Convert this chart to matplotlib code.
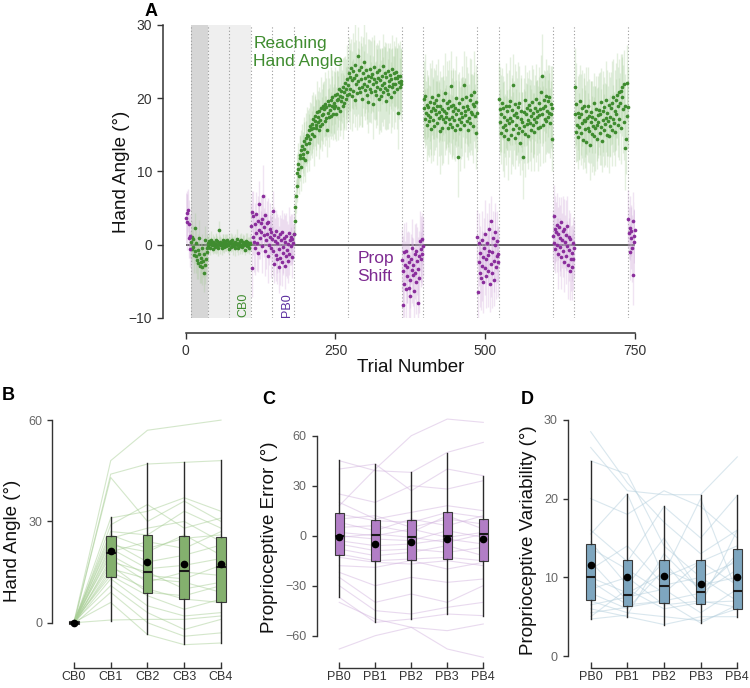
import numpy as np
import matplotlib
matplotlib.use('Agg')
import matplotlib.pyplot as plt

plt.rcParams['font.family'] = ['Liberation Sans', 'DejaVu Sans']

# ---------------- Panel A: per-trial group mean and SEM, block by block ----------------
# prop block 0 (trials 1-8)
P0_START = 1
P0 = [3.6, 4.3, 3.1, 4.7, 0.9, 2.8, -0.6, 1.2]
P0_SEM = [3.4, 3.1, 3.8, 2.9, 2.7, 3.3, 2.5, 3.0]

# reach, no feedback (trials 9-36)
G0_START = 9
G0 = [0.4, -0.6, 1.1, -0.3, 0.8, -1.4, 2.3, -0.9, -1.6, 0.2, -2.1, -0.7, -2.5, -1.2,
      0.9, -2.9, -1.8, -2.4, -0.5, -3.1, -2.2, -3.8, -1.3, -2.7, 0.6, -1.9, -0.4, -1.0]
G0_SEM = [1.6, 1.8, 2.2, 1.5, 1.9, 2.4, 2.0, 1.7, 2.3, 1.8, 2.6, 2.1, 2.2, 1.9,
          2.5, 2.3, 2.0, 2.8, 1.9, 2.4, 2.2, 2.6, 2.1, 2.7, 2.0, 2.3, 1.8, 2.0]

# reach, veridical feedback (trials 37-108)
G1_START = 37
G1 = [0.3, -0.2, 0.5, 0.1, -0.4, 0.7, 0.2, -0.1, 0.4, -0.6, 0.0, 0.3, -0.3, 0.6, 0.1,
      -0.2, 0.5, -0.5, 0.2, 2.0, 0.4, -0.1, 0.3, 0.0, -0.4, 0.6, 0.2, -0.3, 0.1, 0.5,
      -0.2, 0.3, 0.7, -0.1, 0.0, 0.4, -0.6, 0.2, 0.5, -0.3, 0.1, 0.6, -0.2, 0.3, 0.0,
      -0.5, 0.4, 0.2, -0.1, 0.8, 0.1, -0.4, 0.3, 0.5, -0.2, 0.0, 0.6, -0.3, 0.2, 0.4,
      -0.1, 0.3, -0.7, 0.5, 0.1, -0.2, 0.4, 0.0, 0.2, -0.4, 0.3, 0.1]
G1_SEM = [0.9, 0.8, 1.1, 0.7, 1.0, 1.2, 0.8, 0.9, 1.0, 0.7, 1.1, 0.9, 0.8, 1.0, 1.3,
          0.9, 0.7, 1.0, 0.8, 1.2, 0.9, 1.1, 0.8, 0.7, 1.0, 0.9, 1.2, 0.8, 1.0, 0.9,
          0.7, 1.1, 0.8, 1.0, 0.9, 1.2, 0.8, 0.9, 1.1, 0.7, 1.0, 0.8, 1.2, 0.9, 0.7,
          1.0, 1.1, 0.8, 0.9, 1.3, 0.8, 1.0, 0.7, 0.9, 1.1, 0.8, 1.0, 0.9, 1.2, 0.8,
          0.9, 1.0, 0.7, 1.1, 0.8, 0.9, 1.2, 1.0, 0.8, 0.9, 1.1, 0.9]

# prop baseline (trials 109-180)
P1_START = 109
P1 = [2.5, 4.5, -3.2, 1.1, 3.9, 0.4, 2.8, -0.5, 4.2, 1.6, 0.2, 3.3, -1.1, 2.0, 5.6,
      0.9, 3.0, 1.8, -0.2, 3.5, 6.6, 2.4, 1.3, -0.8, 4.0, 0.6, 2.9, 1.5, -1.6, 3.1,
      0.0, 2.2, 1.0, -0.4, 1.7, 0.8,
      4.6, -0.9, 1.3, -2.6, 0.5, -1.4, 1.9, -2.0, 0.2, 1.0, -3.1, -0.6, 1.4, -1.8, 0.7,
      -2.4, 1.8, -0.3, -1.1, 0.9, -2.9, 0.4, -1.5, 1.2, -0.7, 0.1, -2.2, 1.6, -1.2, 0.6,
      -0.2, 1.1, -1.7, 0.8, 0.3, 1.4]
P1_SEM = [3.2, 2.8, 3.9, 2.5, 3.4, 4.1, 2.9, 3.6, 3.0, 2.7, 3.8, 3.3, 2.6, 4.0, 3.1,
          2.9, 3.5, 2.8, 3.7, 3.2, 4.3, 2.6, 3.0, 3.4, 2.9, 3.9, 3.1, 2.7, 3.6, 3.3,
          2.8, 3.5, 3.0, 4.2, 2.9, 3.2, 2.7, 3.4, 3.8, 2.6, 3.1, 3.6, 2.9, 3.3, 4.0,
          2.8, 3.5, 3.1, 2.6, 3.7, 3.0, 3.3, 2.9, 3.8, 2.7, 3.4, 3.1, 3.6, 2.8, 3.2,
          3.9, 2.7, 3.0, 3.5, 2.9, 3.3, 2.6, 3.1, 2.8, 3.4, 2.5, 3.0]

# clamp, learning (trials 181-270)
G2_START = 181
G2 = [1.5, 3.3, 5.2, 6.7, 8.0, 9.8, 10.3, 11.0, 9.4, 11.8,
      12.3, 10.6, 12.9, 13.5, 11.9, 12.4, 14.2, 13.1, 11.5, 14.6,
      13.8, 15.0, 12.7, 14.9, 15.6, 13.9, 16.2, 14.4, 15.8, 16.5,
      15.1, 17.2, 16.0, 14.8, 16.9, 17.6, 15.9, 16.4, 18.1, 16.8,
      17.4, 15.7, 18.3, 17.0, 16.2, 18.6, 17.7, 16.5, 19.0, 17.9,
      18.5, 16.9, 19.2, 17.3, 18.8, 15.6, 19.6, 18.0, 17.4, 19.1,
      18.4, 19.8, 17.6, 18.9, 20.1, 17.9, 19.4, 18.6, 20.4, 19.0,
      17.8, 19.7, 20.6, 18.7, 19.9, 21.2, 18.3, 20.3, 19.6, 21.0,
      20.2, 18.9, 21.5, 19.4, 20.8, 22.1, 19.9, 21.3, 20.5, 22.6]
G2_SEM = [1.2, 1.6, 2.0, 2.3, 2.1, 2.6, 2.4, 2.9, 2.5, 3.1,
          2.7, 3.3, 2.8, 3.0, 3.5, 2.6, 3.2, 3.7, 2.9, 3.4,
          3.1, 3.8, 2.8, 3.5, 3.0, 3.9, 3.3, 2.9, 3.6, 4.0,
          3.2, 3.7, 2.9, 4.1, 3.4, 3.0, 3.8, 3.5, 4.2, 3.1,
          3.6, 4.0, 3.3, 3.9, 2.9, 4.3, 3.5, 3.7, 3.2, 4.1,
          3.8, 3.4, 4.4, 3.0, 3.9, 3.6, 4.2, 3.3, 4.0, 3.7,
          3.5, 4.5, 3.2, 4.1, 3.8, 3.6, 4.3, 3.4, 3.9, 4.6,
          3.7, 4.0, 3.3, 4.4, 3.8, 4.2, 3.5, 4.7, 3.9, 4.1,
          3.6, 4.5, 4.0, 3.8, 4.8, 3.7, 4.3, 4.1, 3.9, 4.6]

# clamp, asymptote (trials 271-360)
G3_START = 271
G3 = [21.8, 23.4, 20.6, 22.9, 21.2, 24.1, 20.3, 22.5, 23.7, 21.0,
      22.8, 19.8, 24.6, 21.9, 23.2, 20.7, 25.7, 22.3, 21.4, 23.9,
      20.9, 22.6, 24.3, 21.6, 19.9, 23.5, 22.0, 24.9, 21.1, 22.7,
      23.8, 20.4, 21.7, 23.1, 19.5, 22.4, 24.0, 21.3, 22.9, 20.8,
      23.3, 21.9, 19.2, 22.6, 24.2, 21.0, 22.2, 20.5, 23.6, 21.5,
      22.8, 19.9, 23.9, 21.2, 22.5, 20.3, 23.0, 21.8, 24.4, 20.9,
      22.1, 23.5, 21.4, 19.6, 22.9, 21.1, 23.7, 20.6, 22.4, 21.7,
      23.2, 20.1, 22.6, 21.5, 24.0, 22.0, 20.8, 23.4, 21.9, 22.8,
      23.6, 21.3, 22.7, 18.0, 23.1, 22.2, 21.6, 23.0, 22.4, 21.9]
G3_SEM = [4.2, 5.0, 3.8, 4.6, 5.4, 4.0, 4.8, 3.9, 5.2, 4.4,
          4.9, 3.7, 5.6, 4.3, 4.7, 5.1, 4.0, 4.5, 5.3, 3.9,
          4.6, 5.0, 4.2, 5.5, 3.8, 4.8, 4.4, 5.2, 4.1, 4.7,
          5.3, 3.9, 4.5, 5.0, 4.3, 5.7, 4.0, 4.6, 4.9, 4.2,
          5.1, 3.8, 4.7, 5.4, 4.4, 4.0, 5.0, 4.6, 3.9, 5.2,
          4.5, 4.8, 4.1, 5.5, 4.3, 4.9, 3.8, 5.1, 4.4, 4.7,
          5.0, 4.2, 5.6, 4.0, 4.6, 5.3, 3.9, 4.8, 4.5, 5.1,
          4.3, 4.9, 4.1, 5.4, 4.6, 3.8, 5.0, 4.4, 5.2, 4.0,
          4.7, 5.5, 4.2, 4.9, 4.5, 5.1, 3.9, 4.8, 4.3, 5.0]

# prop block 1 (trials 361-396)
P2_START = 361
P2 = [-2.1, -8.2, -3.6, -1.0, -5.4, -2.8, -6.1, -0.9, -4.3, -3.1,
      -1.6, -5.9, -2.4, -4.8, -7.0, -1.9, -3.5, -0.4, -4.1, -2.7,
      -6.3, -1.2, -3.9, -5.1, -0.8, -2.2, -8.0, -3.3, -1.5, -4.6,
      0.5, -2.0, -0.6, 0.8, -1.3, -0.2]
P2_SEM = [4.2, 3.6, 4.8, 3.9, 4.4, 3.3, 4.6, 4.0, 3.7, 4.9, 3.5, 4.3, 4.1, 3.8, 4.7,
          3.4, 4.5, 3.9, 4.2, 3.6, 4.8, 4.0, 3.5, 4.4, 3.7, 4.6, 3.9, 4.3, 3.4, 4.7,
          4.1, 3.8, 4.5, 3.6, 4.2, 4.0]

# clamp block 2 (trials 397-486)
G4_START = 397
G4 = [18.6, 19.9, 17.2, 20.3, 18.0, 16.4, 19.1, 17.7, 18.8, 16.9,
      19.5, 17.4, 18.2, 15.8, 20.1, 18.7, 17.0, 19.3, 16.2, 18.4,
      17.8, 19.7, 16.6, 18.9, 20.4, 17.3, 18.1, 15.5, 19.0, 17.6,
      18.5, 16.0, 19.8, 17.1, 18.3, 20.7, 16.8, 18.0, 17.5, 19.4,
      15.9, 18.6, 17.2, 19.6, 16.5, 18.9, 21.7, 17.4, 16.1, 18.2,
      19.1, 17.0, 15.6, 18.7, 17.9, 20.0, 16.3, 12.0, 18.4, 17.1,
      19.3, 15.8, 18.0, 16.7, 19.9, 17.5, 18.8, 16.4, 21.8, 17.7,
      18.3, 20.2, 16.9, 19.0, 15.7, 18.5, 17.3, 19.7, 16.6, 18.1,
      20.5, 17.8, 19.2, 16.2, 18.9, 20.9, 17.6, 19.5, 15.2, 18.0]
G4_SEM = [4.6, 5.2, 4.0, 5.8, 4.4, 5.0, 4.7, 5.5, 4.1, 4.9,
          5.3, 4.3, 5.9, 4.6, 5.1, 4.2, 5.6, 4.8, 4.0, 5.4,
          4.5, 5.0, 5.7, 4.3, 4.9, 5.2, 4.1, 5.8, 4.7, 5.3,
          4.4, 5.1, 4.8, 6.0, 4.2, 5.5, 4.6, 5.0, 4.3, 5.7,
          4.9, 5.2, 4.5, 5.6, 4.1, 5.0, 4.8, 5.4, 4.4, 5.9,
          4.7, 5.3, 4.2, 5.1, 4.6, 5.8, 4.0, 5.5, 4.9, 5.2,
          4.3, 5.7, 4.8, 5.0, 4.5, 5.4, 4.1, 5.9, 4.7, 5.1,
          4.4, 5.6, 4.9, 5.3, 4.2, 5.0, 4.6, 5.8, 4.3, 5.2,
          4.8, 5.5, 4.0, 5.1, 4.7, 5.6, 4.4, 5.0, 4.9, 5.3]

# prop block 2 (trials 487-522)
P3_START = 487
P3 = [1.0, -6.5, -2.3, 0.2, -3.8, -1.1, -4.6, 0.7, -2.9, -1.7,
      -5.1, -0.4, -3.2, 1.5, -2.0, -4.2, 0.3, -1.4, -3.6, 2.1,
      -0.8, -5.3, -2.6, 3.3, -1.0, -3.9, 0.9, -2.2, -4.8, -0.1,
      1.8, -3.0, -1.6, 0.5, -2.4, -1.2]
P3_SEM = [3.8, 4.5, 3.4, 4.1, 4.7, 3.6, 4.3, 3.9, 4.8, 3.5, 4.2, 4.0, 3.7, 4.6, 3.3,
          4.4, 4.1, 3.8, 4.9, 3.6, 4.3, 3.9, 4.5, 3.4, 4.0, 4.7, 3.7, 4.2, 3.5, 4.6,
          3.9, 4.4, 3.6, 4.1, 4.8, 3.8]

# clamp block 3 (trials 523-612)
G5_START = 523
G5 = [19.9, 16.8, 18.5, 15.2, 17.9, 19.3, 16.1, 18.7, 14.8, 17.4,
      16.3, 19.0, 15.6, 18.2, 17.0, 14.4, 18.9, 16.6, 19.6, 17.3,
      15.0, 18.4, 16.9, 21.8, 15.8, 17.7, 19.2, 14.6, 18.0, 16.4,
      17.5, 15.3, 18.8, 16.0, 19.4, 13.9, 17.2, 18.3, 15.5, 16.7,
      12.0, 18.1, 16.2, 19.8, 15.1, 17.8, 16.5, 18.6, 14.9, 17.0,
      19.1, 16.6, 18.4, 15.7, 17.6, 19.5, 16.3, 18.0, 17.1, 15.4,
      18.7, 16.8, 19.9, 17.4, 18.2, 15.9, 19.3, 17.7, 18.5, 16.1,
      20.9, 17.9, 23.1, 18.6, 16.4, 19.7, 17.2, 18.9, 20.3, 16.9,
      18.3, 19.6, 17.5, 20.2, 18.0, 16.6, 19.2, 17.8, 18.6, 14.5]
G5_SEM = [5.0, 4.5, 5.7, 4.2, 5.3, 4.8, 6.1, 4.4, 5.5, 4.9,
          4.3, 5.8, 4.7, 5.2, 4.1, 5.6, 5.0, 4.6, 6.0, 4.4,
          5.3, 4.8, 5.9, 4.2, 5.1, 4.7, 5.5, 4.3, 5.7, 4.9,
          5.2, 4.5, 6.2, 4.8, 5.0, 4.4, 5.6, 4.9, 5.3, 4.1,
          5.8, 4.6, 5.1, 4.7, 5.9, 4.3, 5.4, 5.0, 4.5, 5.7,
          4.8, 5.2, 4.2, 5.6, 4.9, 5.0, 4.4, 6.0, 4.7, 5.3,
          4.5, 5.5, 4.8, 5.1, 4.3, 5.8, 4.9, 5.2, 4.6, 5.4,
          5.0, 4.4, 5.7, 4.7, 5.3, 4.2, 5.9, 4.8, 5.1, 4.5,
          5.6, 4.9, 5.0, 4.3, 5.5, 4.8, 5.2, 4.6, 5.8, 4.4]

# prop block 3 (trials 613-648)
P4_START = 613
P4 = [1.2, 3.9, 0.3, 2.1, -0.6, 1.8, 2.7, 0.0, -1.2, 1.5,
      2.4, -0.3, 0.9, 3.1, -1.7, 0.6, 1.9, -0.9, 2.2, -2.3,
      0.4, 1.3, -1.5, 2.6, -0.2, -2.8, 1.0, -0.7, -3.6, 0.8,
      -1.9, -1.1, -3.0, 0.2, -2.0, -0.5]
P4_SEM = [3.5, 4.2, 3.8, 4.6, 3.3, 4.0, 4.4, 3.7, 4.9, 3.6, 4.1, 3.9, 4.5, 3.4, 4.3,
          3.8, 4.7, 3.5, 4.0, 4.2, 3.6, 4.8, 3.9, 4.1, 3.4, 4.6, 3.7, 4.3, 4.0, 3.5,
          4.4, 3.8, 4.5, 3.6, 4.2, 3.9]

# clamp block 4 (trials 649-738)
G6_START = 649
G6 = [17.9, 21.6, 15.4, 19.2, 16.3, 18.0, 14.7, 17.5, 16.1, 19.6,
      15.2, 17.8, 16.6, 18.7, 14.3, 17.0, 19.0, 15.8, 16.9, 18.3,
      14.0, 17.3, 16.0, 18.9, 15.5, 17.6, 13.6, 16.8, 18.1, 15.1,
      17.4, 16.2, 19.3, 14.8, 17.1, 15.9, 18.5, 16.4, 14.5, 17.7,
      16.7, 18.4, 15.3, 17.9, 19.5, 16.1, 14.2, 18.2, 17.0, 15.6,
      18.8, 16.5, 17.3, 19.8, 15.0, 18.0, 16.9, 14.9, 19.1, 17.5,
      16.2, 18.6, 15.7, 19.4, 17.2, 20.1, 16.6, 18.3, 15.4, 19.7,
      17.8, 20.4, 16.4, 18.9, 20.8, 17.1, 19.3, 21.0, 15.9, 20.2,
      21.5, 18.5, 21.9, 16.8, 19.0, 13.2, 14.4, 22.1, 17.6, 18.8]
G6_SEM = [4.7, 5.3, 4.1, 5.6, 4.9, 5.1, 4.4, 5.8, 4.6, 5.0,
          4.3, 5.5, 4.8, 5.2, 4.0, 5.7, 4.5, 5.3, 4.9, 5.9,
          4.2, 5.1, 4.7, 5.4, 4.4, 5.0, 4.8, 5.6, 4.3, 5.2,
          4.9, 5.5, 4.1, 5.3, 4.6, 5.8, 4.5, 5.0, 4.2, 5.4,
          4.8, 5.1, 4.4, 5.7, 4.6, 5.2, 4.3, 5.5, 4.9, 5.0,
          4.1, 5.6, 4.7, 5.3, 4.4, 5.9, 4.8, 5.1, 4.5, 5.4,
          4.2, 5.0, 4.9, 5.7, 4.6, 5.2, 4.3, 5.5, 4.7, 5.1,
          4.8, 5.8, 4.4, 5.3, 4.6, 5.6, 4.1, 5.0, 4.9, 5.4,
          4.5, 6.0, 4.7, 5.2, 4.3, 5.7, 4.8, 5.1, 4.6, 5.5]

# prop block 4 (trials 739-750)
P5_START = 739
P5 = [3.5, 1.6, 2.3, -1.0, 0.9, 1.9, -0.5, 3.3, -4.1, 1.2, 0.4, 2.0]
P5_SEM = [4.0, 3.6, 4.4, 3.8, 4.2, 3.5, 4.6, 3.9, 4.1, 3.7, 4.3, 3.8]

BLOCK_EDGES = [8.5, 36.5, 72.5, 108.5, 144.5, 180.5, 270.5, 360.5,
               396.5, 486.5, 522.5, 612.5, 648.5, 738.5]
NOFB_SPAN = (8.5, 36.5)
VERIDICAL_SPAN = (36.5, 108.5)

REACH_BLOCKS = [(G0_START, G0, G0_SEM), (G1_START, G1, G1_SEM), (G2_START, G2, G2_SEM),
                (G3_START, G3, G3_SEM), (G4_START, G4, G4_SEM), (G5_START, G5, G5_SEM),
                (G6_START, G6, G6_SEM)]
PROP_BLOCKS = [(P0_START, P0, P0_SEM), (P1_START, P1, P1_SEM), (P2_START, P2, P2_SEM),
               (P3_START, P3, P3_SEM), (P4_START, P4, P4_SEM), (P5_START, P5, P5_SEM)]

# ---------------- Panels B-D: per-participant block means + box summaries ----------------
CB_LABELS = ['CB0', 'CB1', 'CB2', 'CB3', 'CB4']
PB_LABELS = ['PB0', 'PB1', 'PB2', 'PB3', 'PB4']

HAND_SUBJ = [
    [0.2, 48, 57, 58.5, 60], [-0.3, 44, 47, 47.5, 48], [0.1, 43, 30, 36, 30],
    [0.0, 31, 33, 37, 33], [-0.5, 29, 35, 28, 31], [0.4, 27, 26, 33, 28],
    [0.3, 26, 22, 25, 26], [-0.2, 25, 28, 30, 24], [0.5, 24, 18, 20, 23],
    [-0.4, 23, 21, 26, 20], [0.2, 22, 16, 17, 19], [-0.1, 21, 24, 22, 27],
    [0.6, 20, 14, 13, 17], [-0.6, 19, 12, 15, 14], [0.1, 18, 15, 10, 12],
    [0.3, 17, 9, 8, 11], [-0.3, 16, 13, 12, 9], [0.0, 15, 10, 7, 6],
    [0.4, 14, 8, 4, 7], [-0.2, 13, 5, 2, 3], [0.2, 11, 3, -2, 1],
    [-0.5, 9, 0, -4, -3], [0.1, 6, -3.5, -6.5, -6], [0.0, 0.8, 1, 1, 2]]
HAND_MED = [0.0, 20.7, 14.9, 15.4, 16.6]
HAND_Q1 = [-0.5, 13.6, 8.9, 6.9, 6.1]
HAND_Q3 = [0.5, 25.7, 25.9, 25.8, 25.5]
HAND_LO = [-0.8, 0.6, -3.4, -6.4, -5.9]
HAND_HI = [0.8, 31.4, 47.2, 47.7, 48.2]
HAND_MEAN = [0.0, 21.2, 18.0, 17.3, 17.3]

ERR_SUBJ = [
    [18, 40, 60, 70, 68], [45, 39, 38, 50, 56], [40, 43, 27, 40, 36],
    [25, 20, 30, 28, 33], [20, 10, 14, 18, 15], [13, 9, 8, 14, 11],
    [10, 12, 5, 10, 7], [8, 3, 10, 6, 12], [5, 6, 2, 12, 4],
    [2, 0, 4, -1, 2], [0, -2, -3, 3, -1], [-1, 1, -1, -4, 1],
    [-3, -6, -5, -2, -5], [-5, -9, -8, -10, -7], [-8, -12, -10, -6, -12],
    [-11, -15, -14, -13, -15], [-13, -16, -17, -15, -18], [-18, -19, -15, -20, -16],
    [-22, -30, -25, -28, -26], [-25, -40, -35, -40, -30], [-30, -45, -47, -43, -40],
    [-37, -52, -50, -47, -48], [-68, -60, -55, -57, -53], [-40, -50, -55, -68, -73]]
ERR_MED = [-0.4, 0.5, -0.8, -0.4, 1.2]
ERR_Q1 = [-11.8, -15.4, -14.8, -14.0, -15.0]
ERR_Q3 = [13.4, 9.4, 9.4, 14.2, 10.0]
ERR_LO = [-36.6, -51.6, -50.2, -47.0, -48.2]
ERR_HI = [45.4, 42.8, 38.2, 49.8, 35.6]
ERR_MEAN = [-1.0, -4.8, -3.8, -2.0, -2.2]

VAR_SUBJ = [
    [28.5, 22, 17, 13, 16], [26.5, 21, 20.5, 20.5, 25.3], [24.8, 23.1, 14, 10, 12],
    [20, 18, 21, 19, 15], [16, 12, 19, 15, 20.4], [15.5, 20.6, 10, 12, 14],
    [14.5, 9, 15, 8, 13], [13.7, 11, 8, 12, 9], [12, 7, 12, 6.5, 16],
    [11, 14, 9, 10, 7], [10, 8, 10.5, 20, 8], [9.5, 6.5, 7, 8, 11],
    [8.5, 10, 6.5, 7, 6.2], [8, 6, 11, 9, 10], [7, 5.5, 5, 4.5, 6],
    [6.5, 7.5, 8.5, 5.5, 8.5], [6, 5, 4, 5, 5], [5.5, 6.2, 7, 4.2, 6.5],
    [5, 8.5, 6, 6.8, 7], [4.7, 5.2, 13, 8.3, 12.5]]
VAR_MED = [10.0, 7.8, 8.9, 8.1, 8.3]
VAR_Q1 = [7.1, 6.4, 6.7, 6.6, 6.0]
VAR_Q3 = [14.2, 12.2, 12.2, 12.2, 13.6]
VAR_LO = [4.7, 5.0, 3.9, 4.2, 5.0]
VAR_HI = [24.8, 20.6, 19.0, 20.5, 20.4]
VAR_MEAN = [11.6, 10.1, 10.2, 9.2, 10.1]

GREEN = '#3f8c2f'
GREEN_BAND = '#a6cc98'
PURPLE = '#8a2d9c'
PURPLE_BAND = '#cfa8d9'
AXCOL = '#333333'

fig = plt.figure(figsize=(7.5, 6.88), dpi=100)

# ---------------- Panel A ----------------
axA = fig.add_axes([0.2476, 0.5378, 0.5991, 0.4259])
axA.set_xlim(0, 750)
axA.set_ylim(-10, 30)
axA.axvspan(*NOFB_SPAN, color='#d6d6d6', lw=0, zorder=0)
axA.axvspan(*VERIDICAL_SPAN, color='#efefef', lw=0, zorder=0)
axA.vlines(BLOCK_EDGES, -10, 30, colors='#9a9a9a', linestyles=(0, (1, 2)), lw=0.8, zorder=1)
axA.hlines(0, 0, 750, colors='#444444', lw=1.2, zorder=2)

for blocks, col, band in [(REACH_BLOCKS, GREEN, GREEN_BAND), (PROP_BLOCKS, PURPLE, PURPLE_BAND)]:
    for start, vals, sem in blocks:
        n = min(len(vals), len(sem))
        t = start + np.arange(n)
        m = np.array(vals[:n])
        s = np.array(sem[:n])
        axA.vlines(t, m - s, m + s, colors=band, lw=1.0, alpha=0.3, zorder=2)
        axA.scatter(t, m, s=7, color=col, lw=0, zorder=3, clip_on=False)

axA.text(113, 28.5, 'Reaching\nHand Angle', color=GREEN, fontsize=12.5, ha='left', va='top',
         linespacing=1.25)
axA.text(287, -0.9, 'Prop\nShift', color='#7d2a91', fontsize=12.5, ha='left', va='top',
         linespacing=1.25)
axA.text(96, -9.8, 'CB0', color=GREEN, fontsize=9, rotation=90, ha='center', va='bottom')
axA.text(169, -9.8, 'PB0', color='#5b2d9e', fontsize=9, rotation=90, ha='center', va='bottom')

for sp in ['top', 'right']:
    axA.spines[sp].set_visible(False)
axA.spines['left'].set_position(('outward', 16.3))
axA.spines['bottom'].set_position(('outward', 10.8))
axA.spines['left'].set_bounds(-10, 30)
axA.spines['bottom'].set_bounds(0, 750)
for sp in ['left', 'bottom']:
    axA.spines[sp].set_color(AXCOL)
    axA.spines[sp].set_linewidth(1.1)
axA.set_xticks([0, 250, 500, 750])
axA.set_yticks([-10, 0, 10, 20, 30])
axA.tick_params(colors=AXCOL, labelsize=10, length=4.5, width=1)
axA.set_xlabel('Trial Number', fontsize=13.5, color='#111')
axA.set_ylabel('Hand Angle (°)', fontsize=13.5, color='#111')
axA.xaxis.set_label_coords(0.5, -0.14)
axA.yaxis.set_label_coords(-0.124, 0.5)
fig.text(151 / 750, 1 - 12 / 688, 'A', fontsize=13, fontweight='bold', ha='center', va='center')


def box_panel(ax, labels, subj, med, q1, q3, lo, hi, mean, fill, line_col,
              ylim, yticks, xlim, ylabel, label_x):
    x = np.arange(len(labels))
    for row in subj:
        ax.plot(x, row, color=line_col, lw=0.8, alpha=0.5, zorder=1)
    stats = [dict(med=med[i], q1=q1[i], q3=q3[i], whislo=lo[i], whishi=hi[i],
                  mean=mean[i], label=labels[i]) for i in range(len(labels))]
    ax.bxp(stats, positions=x, widths=0.26, patch_artist=True, showmeans=True,
           showcaps=False, showfliers=False,
           boxprops=dict(facecolor=fill, edgecolor='#3a3a3a', lw=0.8),
           medianprops=dict(color='#1a1a1a', lw=1.5),
           whiskerprops=dict(color='#2a2a2a', lw=1.0),
           meanprops=dict(marker='o', markerfacecolor='black', markeredgecolor='black',
                          markersize=4.5))
    ax.set_xlim(*xlim)
    ax.set_ylim(*ylim)
    ax.set_yticks(yticks)
    for sp in ['top', 'right']:
        ax.spines[sp].set_visible(False)
    ax.spines['left'].set_bounds(yticks[0], yticks[-1])
    ax.spines['bottom'].set_bounds(0, len(labels) - 1)
    for sp in ['left', 'bottom']:
        ax.spines[sp].set_color(AXCOL)
        ax.spines[sp].set_linewidth(1.0)
    ax.tick_params(axis='x', colors=AXCOL, labelsize=9, length=4, width=1, direction='in',
                   pad=2, labelcolor='#333')
    ax.tick_params(axis='y', colors=AXCOL, labelsize=9, length=3.5, width=1, labelcolor='#666')
    ax.set_ylabel(ylabel, fontsize=13.5, color='#111')
    ax.yaxis.set_label_coords(label_x, 0.5)


axB = fig.add_axes([0.0692, 0.0286, 0.25, 0.3706])
box_panel(axB, CB_LABELS, HAND_SUBJ, HAND_MED, HAND_Q1, HAND_Q3, HAND_LO, HAND_HI,
          HAND_MEAN, '#84b06e', '#a9cf97', (-13.5, 62), [0, 30, 60], (-0.6, 4.5),
          'Hand Angle (°)', -0.165)

axC = fig.add_axes([0.4221, 0.0286, 0.2463, 0.3817])
box_panel(axC, PB_LABELS, ERR_SUBJ, ERR_MED, ERR_Q1, ERR_Q3, ERR_LO, ERR_HI,
          ERR_MEAN, '#b27ec6', '#d3b5df', (-79.6, 78), [-60, -30, 0, 30, 60], (-0.63, 4.5),
          'Proprioceptive Error (°)', -0.209)

axD = fig.add_axes([0.7568, 0.0286, 0.2409, 0.3725])
box_panel(axD, PB_LABELS, VAR_SUBJ, VAR_MED, VAR_Q1, VAR_Q3, VAR_LO, VAR_HI,
          VAR_MEAN, '#7ea6bf', '#b4cfdd', (-1.56, 31), [0, 10, 20, 30], (-0.63, 4.3),
          'Proprioceptive Variability (°)', -0.169)

fig.text(8.5 / 750, 1 - 396 / 688, 'B', fontsize=13, fontweight='bold', ha='center', va='center')
fig.text(269 / 750, 1 - 399 / 688, 'C', fontsize=13, fontweight='bold', ha='center', va='center')
fig.text(527.5 / 750, 1 - 400 / 688, 'D', fontsize=13, fontweight='bold', ha='center', va='center')

fig.savefig('out.png', dpi=100, facecolor='white')
